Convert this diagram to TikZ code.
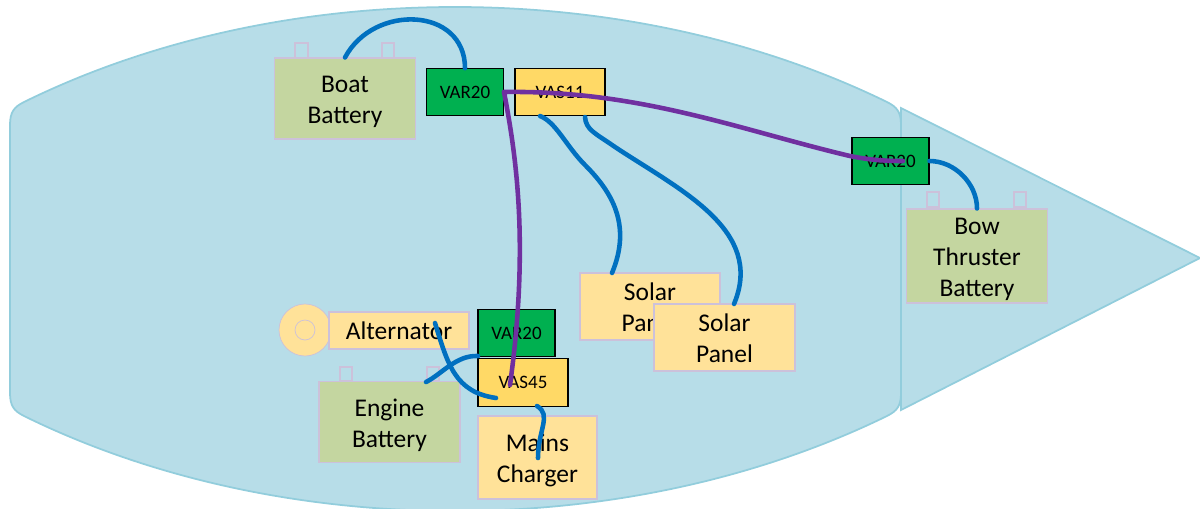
\documentclass[tikz,border=0pt]{standalone}
\usepackage{fontspec}
\setmainfont{Carlito}
\usepackage{tikz}

\definecolor{hullfill}{HTML}{B7DDE8}
\definecolor{hullline}{HTML}{92CDDC}
\definecolor{battfill}{HTML}{C4D6A0}
\definecolor{termline}{HTML}{CCC1DA}
\definecolor{loadfill}{HTML}{FFE299}
\definecolor{vasfill}{HTML}{FFD966}
\definecolor{varfill}{HTML}{00B050}
\definecolor{bluewire}{HTML}{0070C0}
\definecolor{purplewire}{HTML}{7030A0}
\newcommand{\lowertext}{\rule{0pt}{13.5pt}}
\newcommand{\lowersome}{\rule{0pt}{11pt}}

\begin{document}
\begin{tikzpicture}[x=0.02cm,y=-0.02cm,
    base box/.style={draw,line width=0.6pt,inner sep=0pt,align=center,font=\fontsize{14.5}{17.6}\selectfont},
    battery/.style={base box,draw=termline,fill=battfill,minimum width=2.82cm,minimum height=1.62cm},
    load/.style={base box,draw=termline,fill=loadfill},
    terminal/.style={draw=termline,line width=1.1pt,inner sep=0pt,minimum width=0.25cm,minimum height=0.29cm},
    var/.style={draw=black,line width=0.6pt,fill=varfill,inner sep=0pt,font=\fontsize{10.8}{13}\selectfont,minimum width=1.54cm,minimum height=0.93cm},
    vas/.style={draw=black,line width=0.6pt,fill=vasfill,inner sep=0pt,font=\fontsize{10.8}{13}\selectfont,minimum width=1.8cm,minimum height=0.95cm},
    blue wire/.style={draw=bluewire,line width=2.6pt,line cap=round},
    purple wire/.style={draw=purplewire,line width=2.6pt,line cap=round}]

  \useasboundingbox (0,0) rectangle (1200,508);

  % hull
  \begin{scope}
    \clip (0,0) rectangle (1200,508);
    \draw[draw=hullline,fill=hullfill,line width=1pt] (901,108) -- (1200,258) -- (901,410) -- cycle;
    \draw[draw=hullline,fill=hullfill,line width=1pt] (10,125) .. controls (10,112) and (14,107) .. (24,102)
      .. controls (150,40) and (300,7) .. (455,7)
      .. controls (610,7) and (760,40) .. (887,102)
      .. controls (897,107) and (901,112) .. (901,125)
      -- (901,393)
      .. controls (901,406) and (897,411) .. (887,416)
      .. controls (760,478) and (610,511) .. (455,511)
      .. controls (300,511) and (150,478) .. (24,416)
      .. controls (14,411) and (10,406) .. (10,393) -- cycle;
  \end{scope}

  % batteries
  \node[terminal] (boatneg) at (301.5,50.5) {};
  \node[terminal] (boatpos) at (388,50.5) {};
  \node[battery]  (boat) at (345,98.5) {\lowertext Boat\\Battery};
  \node[terminal] (engneg) at (346,374) {};
  \node[terminal] (engpos) at (433,374) {};
  \node[battery]  (engine) at (389.5,422) {\lowertext Engine\\Battery};
  \node[terminal] (bowneg) at (933,199.5) {};
  \node[terminal] (bowpos) at (1020,199.5) {};
  \node[battery,minimum height=1.88cm] (bow) at (977,256) {\lowertext Bow\\Thruster\\Battery};

  % sources
  \node[circle,draw=termline,fill=loadfill,minimum size=1.04cm,inner sep=0pt] (rotor) at (305,330) {};
  \node[circle,draw=termline,minimum size=0.4cm,inner sep=0pt] (shaft) at (305,330) {};
  \node[load,minimum width=2.8cm,minimum height=0.74cm] (alt) at (399,330.5) {Alternator};
  \node[load,minimum width=2.8cm,minimum height=1.34cm] (solara) at (650,306.5) {\lowersome Solar\\Panel};
  \node[load,minimum width=2.82cm,minimum height=1.34cm] (solarb) at (724.5,337.5) {\lowersome Solar\\Panel};
  \node[load,minimum width=2.38cm,minimum height=1.66cm] (mains) at (537.5,457.5) {\lowertext Mains\\Charger};

  % regulators
  \node[var] (varboat) at (465,92) {VAR20};
  \node[vas] (vassolar) at (560,92) {VAS11};
  \node[var] (varbow) at (890.5,161) {VAR20};
  \node[var] (varengine) at (516.5,333) {VAR20};
  \node[vas] (vasengine) at (523,382.5) {VAS45};

  % free ends of the wires
  \coordinate (altend) at (435,323);
  \coordinate (engend) at (426,382);
  \coordinate (vasleft) at (496,398);
  \coordinate (vastop) at (510,385);
  \coordinate (bowend) at (903,161);
  \coordinate (chargerend) at (538,458);
  \coordinate (solarout) at (540,116);
  \coordinate (solarouttwo) at (585,117);
  \coordinate (solarin) at (612,273);
  \coordinate (solarintwo) at (734,304);
  \coordinate (vasbottom) at (537,406);
  \coordinate (varengleft) at (478,356);

  \path (boat.north) edge [blue wire,out=62,in=90,looseness=1.3] (varboat.north)
        (varbow.east) edge [blue wire,out=0,in=90,looseness=0.95] (bow.north);
  \draw[blue wire] (solarout) .. controls (556,122) and (566,146) .. (585,165)
      .. controls (612,192) and (632,225) .. (solarin);
  \draw[blue wire] (solarouttwo) .. controls (586,130) and (595,133) .. (615,147)
      .. controls (680,190) and (765,230) .. (solarintwo);
  \draw[blue wire] (altend) .. controls (448,365) and (455,392) .. (vasleft);
  \draw[blue wire] (engend) .. controls (442,374) and (456,355) .. (varengleft);
  \draw[blue wire] (vasbottom) .. controls (552,415) and (538,430) .. (chargerend);

  \draw[purple wire] (varboat.east) .. controls (640,90) and (740,130) .. (850,156)
      .. controls (870,160) and (885,161) .. (bowend);
  \draw[purple wire] (varboat.east) .. controls (515,150) and (530,240) .. (vastop);
\end{tikzpicture}
\end{document}
